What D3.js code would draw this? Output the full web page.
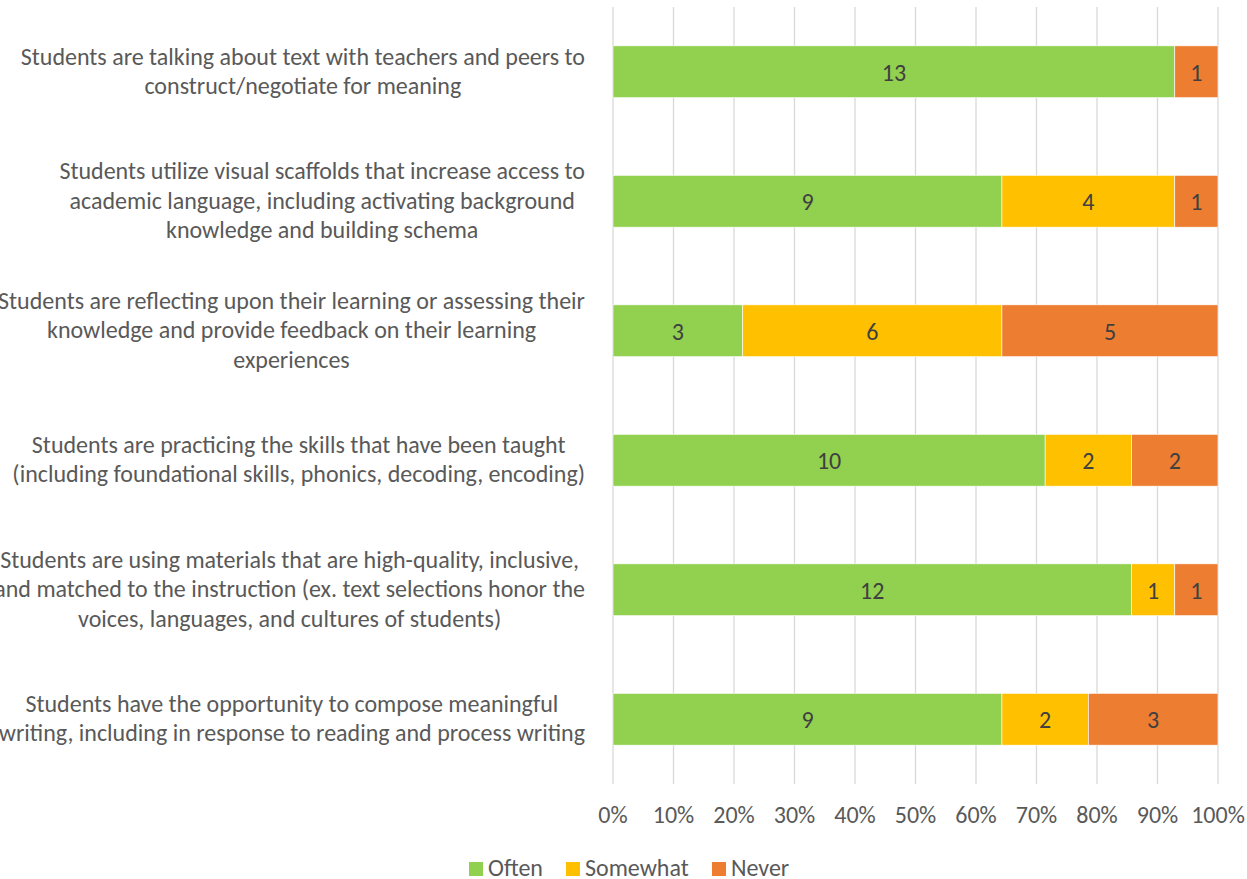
<!DOCTYPE html>
<html>
<head>
<meta charset="utf-8">
<script src="https://cdn.jsdelivr.net/npm/d3@7"></script>
<style>
  html, body { margin: 0; padding: 0; background: #fff; }
  svg { display: block; font-family: Calibri, Carlito, Lato, sans-serif; }
</style>
</head>
<body>
<svg id="chart" width="1247" height="879"></svg>
<script>
// Survey statements (line breaks mark where each label wraps)
const categories = [
  "Students are talking about text with teachers and peers to\nconstruct/negotiate for meaning",
  "Students utilize visual scaffolds that increase access to\nacademic language, including activating background\nknowledge and building schema",
  "Students are reflecting upon their learning or assessing their\nknowledge and provide feedback on their learning\nexperiences",
  "Students are practicing the skills that have been taught\n(including foundational skills, phonics, decoding, encoding)",
  "Students are using materials that are high-quality, inclusive,\nand matched to the instruction (ex. text selections honor the\nvoices, languages, and cultures of students)",
  "Students have the opportunity to compose meaningful\nwriting, including in response to reading and process writing"
];
const seriesNames = ["Often", "Somewhat", "Never"];
const often    = [13, 9, 3, 10, 12, 9];
const somewhat = [0, 4, 6, 2, 1, 2];
const never    = [1, 1, 5, 2, 1, 3];
const tickValues = [0, 0.1, 0.2, 0.3, 0.4, 0.5, 0.6, 0.7, 0.8, 0.9, 1];
const colors = ["#92D050", "#FFC000", "#ED7D31"];

const svg = d3.select("#chart");
const plot = { left: 613, right: 1218, top: 7, bottom: 784 };
const fontSize = 24;
const lineH = 29.3;

const rows = categories.map((c, i) => ({
  label: c, Often: often[i], Somewhat: somewhat[i], Never: never[i],
  total: often[i] + somewhat[i] + never[i]
}));

const x = d3.scaleLinear().domain([0, 1]).range([plot.left, plot.right]);
const y = d3.scaleBand().domain(d3.range(rows.length))
  .range([plot.top, plot.bottom]).paddingInner(0.6).paddingOuter(0.3);

// vertical gridlines
svg.append("g").selectAll("line").data(tickValues).join("line")
  .attr("x1", d => x(d)).attr("x2", d => x(d))
  .attr("y1", plot.top).attr("y2", plot.bottom)
  .attr("stroke", "#d9d9d9").attr("stroke-width", 1.3);

// stacked shares of each row's total
const stack = d3.stack().keys(seriesNames)
  .value((d, k) => d[k] / d.total);
const layers = stack(rows);

const gBars = svg.append("g");
layers.forEach((layer, li) => {
  const g = gBars.append("g");
  layer.forEach((seg, i) => {
    const v = rows[i][seriesNames[li]];
    if (!v) return;
    g.append("rect")
      .attr("x", x(seg[0])).attr("width", x(seg[1]) - x(seg[0]))
      .attr("y", y(i)).attr("height", y.bandwidth())
      .attr("fill", colors[li])
      .attr("stroke", "#ffffff").attr("stroke-width", 0.6);
    g.append("text")
      .attr("x", (x(seg[0]) + x(seg[1])) / 2)
      .attr("y", y(i) + y.bandwidth() / 2 + 9)
      .attr("text-anchor", "middle")
      .attr("font-size", fontSize).attr("fill", "#404040")
      .text(v);
  });
});

// category labels: block right-aligned, each line centred within it
const gLab = svg.append("g");
const labelRight = 585;
rows.forEach((r, i) => {
  const lines = r.label.split("\n");
  const cy = y(i) + y.bandwidth() / 2;
  const t = gLab.append("text").attr("font-size", fontSize).attr("fill", "#595959")
    .attr("text-anchor", "middle");
  const spans = lines.map((ln, k) => t.append("tspan")
    .attr("y", cy + (k - (lines.length - 1) / 2) * lineH + 7.5).text(ln));
  const w = d3.max(spans, s => s.node().getComputedTextLength());
  spans.forEach(s => s.attr("x", labelRight - w / 2));
});

// percentage axis labels
svg.append("g").selectAll("text").data(tickValues).join("text")
  .attr("x", d => x(d)).attr("y", 823)
  .attr("text-anchor", "middle").attr("font-size", fontSize).attr("fill", "#595959")
  .text(d => d3.format(".0%")(d));

// legend
const legendItems = [
  { name: "Often", sx: 469 }, { name: "Somewhat", sx: 566 }, { name: "Never", sx: 712 }
];
const gLeg = svg.append("g");
legendItems.forEach((it, i) => {
  gLeg.append("rect").attr("x", it.sx).attr("y", 862).attr("width", 14).attr("height", 14)
    .attr("fill", colors[i]);
  gLeg.append("text").attr("x", it.sx + 19).attr("y", 876)
    .attr("font-size", fontSize).attr("fill", "#595959").text(it.name);
});
</script>
</body>
</html>
